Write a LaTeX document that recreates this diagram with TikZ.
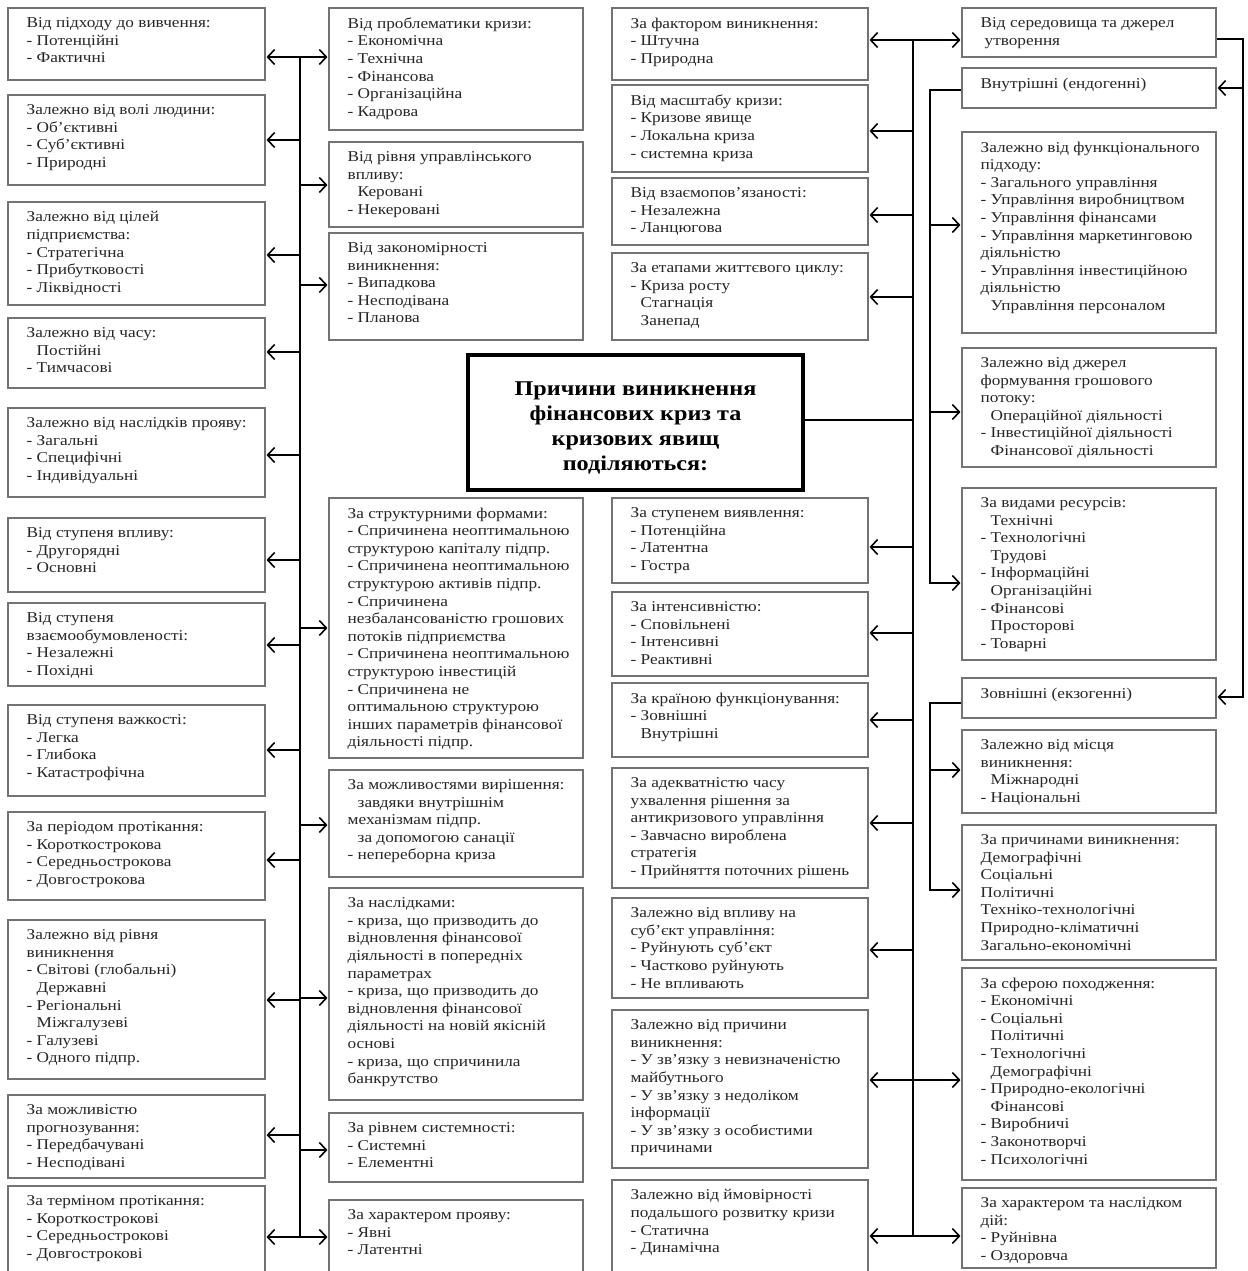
\documentclass[tikz,border=0pt]{standalone}
\usepackage{fontspec}
\setmainfont[FakeStretch=1.15]{Liberation Serif}
\usetikzlibrary{arrows.meta,fit}
\newcommand\nodash{\phantom{- }}
\newcommand\bx[6]{%
  \node[box, fit={(#2,#3)(#4,#5)}] (#1) {};
  \node[txt] at ([xshift=19pt,yshift=-10pt]#1.north west) {#6};}
\begin{document}
\begin{tikzpicture}[x=1pt,y=-1pt,
  box/.style={draw=black!55, line width=1.1pt, inner sep=0pt},
  txt/.style={inner sep=0pt, align=left, anchor=north west, font=\fontsize{15}{17.6}\selectfont, text=black!85},
  ln/.style={line width=1.6pt, black},
  arr/.style={ln, shorten >=1pt, -{Straight Barb[length=7pt,width=15pt]}}]
\fill[white] (0,0) rectangle (1247,1271);
\useasboundingbox (0,0) rectangle (1247,1271);

% ---------- left column ----------
\bx{L1}{8}{8}{265}{80}{Від підходу до вивчення:\\- Потенційні\\- Фактичні}
\bx{L2}{8}{95}{265}{185}{Залежно від волі людини:\\- Об’єктивні\\- Суб’єктивні\\- Природні}
\bx{L3}{8}{202}{265}{305}{Залежно від цілей\\підприємства:\\- Стратегічна\\- Прибутковості\\- Ліквідності}
\bx{L4}{8}{318}{265}{388}{Залежно від часу:\\\nodash Постійні\\- Тимчасові}
\bx{L5}{8}{408}{265}{497}{Залежно від наслідків прояву:\\- Загальні\\- Специфічні\\- Індивідуальні}
\bx{L6}{8}{518}{265}{592}{Від ступеня впливу:\\- Другорядні\\- Основні}
\bx{L7}{8}{603}{265}{686}{Від ступеня\\взаємообумовленості:\\- Незалежні\\- Похідні}
\bx{L8}{8}{705}{265}{796}{Від ступеня важкості:\\- Легка\\- Глибока\\- Катастрофічна}
\bx{L9}{8}{812}{265}{900}{За періодом протікання:\\- Короткострокова\\- Середньострокова\\- Довгострокова}
\bx{L10}{8}{920}{265}{1079}{Залежно від рівня\\виникнення\\- Світові (глобальні)\\\nodash Державні\\- Регіональні\\\nodash Міжгалузеві\\- Галузеві\\- Одного підпр.}
\bx{L11}{8}{1095}{265}{1178}{За можливістю\\прогнозування:\\- Передбачувані\\- Несподівані}
\bx{L12}{8}{1186}{265}{1280}{За терміном протікання:\\- Короткострокові\\- Середньострокові\\- Довгострокові}

% ---------- middle-left column ----------
\bx{M1}{329}{8}{583}{130}{Від проблематики кризи:\\- Економічна\\- Технічна\\- Фінансова\\- Організаційна\\- Кадрова}
\bx{M2}{329}{142}{583}{227}{Від рівня управлінського\\впливу:\\\nodash Керовані\\- Некеровані}
\bx{M3}{329}{233}{583}{340}{Від закономірності\\виникнення:\\- Випадкова\\- Несподівана\\- Планова}
\bx{M4}{329}{498}{583}{758}{За структурними формами:\\- Спричинена неоптимальною\\структурою капіталу підпр.\\- Спричинена неоптимальною\\структурою активів підпр.\\- Спричинена\\незбалансованістю грошових\\потоків підприємства\\- Спричинена неоптимальною\\структурою інвестицій\\- Спричинена не\\оптимальною структурою\\інших параметрів фінансової\\діяльності підпр.}
\bx{M5}{329}{770}{583}{877}{За можливостями вирішення:\\\nodash завдяки внутрішнім\\механізмам підпр.\\\nodash за допомогою санації\\- непереборна криза}
\bx{M6}{329}{888}{583}{1100}{За наслідками:\\- криза, що призводить до\\відновлення фінансової\\діяльності в попередніх\\параметрах\\- криза, що призводить до\\відновлення фінансової\\діяльності на новій якісній\\основі\\- криза, що спричинила\\банкрутство}
\bx{M7}{329}{1113}{583}{1182}{За рівнем системності:\\- Системні\\- Елементні}
\bx{M8}{329}{1200}{583}{1280}{За характером прояву:\\- Явні\\- Латентні}

% ---------- middle-right column ----------
\bx{C1}{612}{8}{868}{80}{За фактором виникнення:\\- Штучна\\- Природна}
\bx{C2}{612}{85}{868}{172}{Від масштабу кризи:\\- Кризове явище\\- Локальна криза\\- системна криза}
\bx{C3}{612}{178}{868}{245}{Від взаємопов’язаності:\\- Незалежна\\- Ланцюгова}
\bx{C4}{612}{253}{868}{340}{За етапами життєвого циклу:\\- Криза росту\\\nodash Стагнація\\\nodash Занепад}
\bx{C5}{612}{498}{868}{583}{За ступенем виявлення:\\- Потенційна\\- Латентна\\- Гостра}
\bx{C6}{612}{592}{868}{676}{За інтенсивністю:\\- Сповільнені\\- Інтенсивні\\- Реактивні}
\bx{C7}{612}{683}{868}{757}{За країною функціонування:\\- Зовнішні\\\nodash Внутрішні}
\bx{C8}{612}{768}{868}{888}{За адекватністю часу\\ухвалення рішення за\\антикризового управління\\- Завчасно вироблена\\стратегія\\- Прийняття поточних рішень}
\bx{C9}{612}{898}{868}{998}{Залежно від впливу на\\суб’єкт управління:\\- Руйнують суб’єкт\\- Частково руйнують\\- Не впливають}
\bx{C10}{612}{1010}{868}{1168}{Залежно від причини\\виникнення:\\- У зв’язку з невизначеністю\\майбутнього\\- У зв’язку з недоліком\\інформації\\- У зв’язку з особистими\\причинами}
\bx{C11}{612}{1180}{868}{1280}{Залежно від ймовірності\\подальшого розвитку кризи\\- Статична\\- Динамічна}

% ---------- right column ----------
\bx{D1}{962}{8}{1216}{57}{Від середовища та джерел\\\hspace{4pt}утворення}
\bx{D2}{962}{68}{1216}{108}{Внутрішні (ендогенні)}
\bx{D3}{962}{132}{1216}{333}{Залежно від функціонального\\підходу:\\- Загального управління\\- Управління виробництвом\\- Управління фінансами\\- Управління маркетинговою\\діяльністю\\- Управління інвестиційною\\діяльністю\\\nodash Управління персоналом}
\bx{D4}{962}{348}{1216}{467}{Залежно від джерел\\формування грошового\\потоку:\\\nodash Операційної діяльності\\- Інвестиційної діяльності\\\nodash Фінансової діяльності}
\bx{D5}{962}{488}{1216}{660}{За видами ресурсів:\\\nodash Технічні\\- Технологічні\\\nodash Трудові\\- Інформаційні\\\nodash Організаційні\\- Фінансові\\\nodash Просторові\\- Товарні}
\bx{D6}{962}{678}{1216}{718}{Зовнішні (екзогенні)}
\bx{D7}{962}{730}{1216}{813}{Залежно від місця\\виникнення:\\\nodash Міжнародні\\- Національні}
\bx{D8}{962}{825}{1216}{960}{За причинами виникнення:\\Демографічні\\Соціальні\\Політичні\\Техніко-технологічні\\Природно-кліматичні\\Загально-економічні}
\bx{D9}{962}{968}{1216}{1180}{За сферою походження:\\- Економічні\\- Соціальні\\\nodash Політичні\\- Технологічні\\\nodash Демографічні\\- Природно-екологічні\\\nodash Фінансові\\- Виробничі\\- Законотворчі\\- Психологічні}
\bx{D10}{962}{1188}{1216}{1268}{За характером та наслідком\\дій:\\- Руйнівна\\- Оздоровча}

% ---------- central box ----------
\node[draw, line width=3.5pt, inner sep=0pt, fit={(468,355)(803,490)}] (CB) {};
\node[inner sep=0pt, align=center, font=\bfseries\fontsize{21}{25}\selectfont] at ([yshift=-5pt]CB.center) {Причини виникнення\\фінансових криз та\\кризових явищ\\поділяються:};

% ---------- left bus ----------
\coordinate (lt) at (300,57);
\coordinate (lb) at (300,1237);
\draw[ln] (lt) -- (lb);
\foreach \n/\y in {L1/57,L2/140,L3/255,L4/352,L5/455,L6/560,L7/645,L8/750,L9/860,L10/1000,L11/1135,L12/1237}{
  \coordinate (b\n) at (300,\y);
  \draw[arr] (b\n) -- (b\n -| \n.east);}
\foreach \n/\y in {M1/57,M2/185,M3/285,M4/628,M5/825,M6/998,M7/1150,M8/1237}{
  \coordinate (b\n) at (300,\y);
  \draw[arr] (b\n) -- (b\n -| \n.west);}

% ---------- right outer bus ----------
\coordinate (rt) at (913,40);
\coordinate (rb) at (913,1236);
\draw[ln] (rt) -- (rb);
\coordinate (rc) at (913,420);
\draw[ln] (CB.east |- rc) -- (rc);
\foreach \n/\y in {C1/40,C2/131,C3/215,C4/297,C5/547,C6/633,C7/720,C8/823,C9/950,C10/1080,C11/1236}{
  \coordinate (b\n) at (913,\y);
  \draw[arr] (b\n) -- (b\n -| \n.east);}
\foreach \n/\y in {D1/40,D9/1080,D10/1236}{
  \coordinate (b\n) at (913,\y);
  \draw[arr] (b\n) -- (b\n -| \n.west);}

% ---------- inner buses ----------
\coordinate (ia) at (930,90);
\coordinate (iab) at (930,583);
\draw[arr] (D2.west |- ia) -- (ia) -- (iab) -- (iab -| D5.west);
\foreach \n/\y in {D3/225,D4/412}{
  \coordinate (b\n) at (930,\y);
  \draw[arr] (b\n) -- (b\n -| \n.west);}
\coordinate (ib) at (930,703);
\coordinate (ibb) at (930,890);
\draw[arr] (D6.west |- ib) -- (ib) -- (ibb) -- (ibb -| D8.west);
\coordinate (bD7) at (930,770);
\draw[arr] (bD7) -- (bD7 -| D7.west);

% ---------- right loop ----------
\coordinate (ot) at (1243,39);
\coordinate (ob) at (1243,697);
\coordinate (om) at (1243,88);
\draw[arr] (D1.east |- ot) -- (ot) -- (ob) -- (ob -| D6.east);
\draw[arr] (om) -- (om -| D2.east);
\end{tikzpicture}
\end{document}
